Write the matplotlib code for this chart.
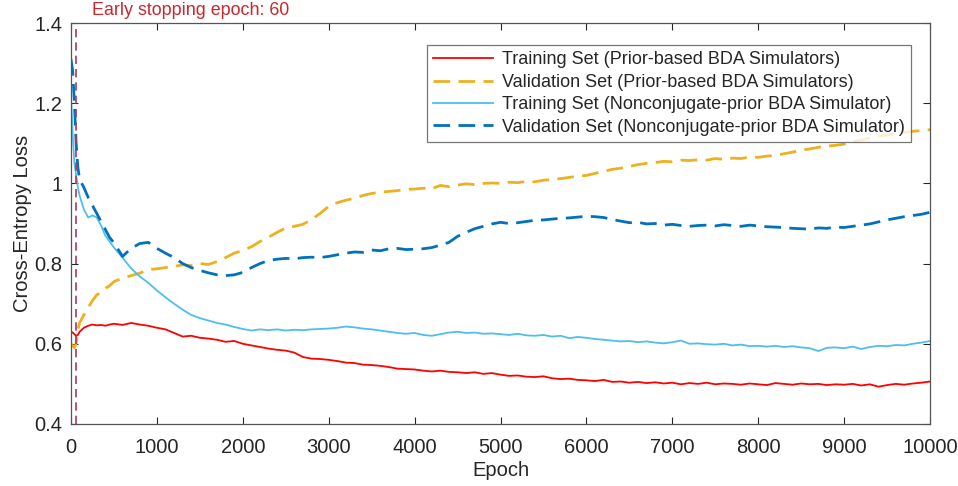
import matplotlib
matplotlib.use("Agg")
import matplotlib.pyplot as plt

plt.rcParams['font.family'] = ['Liberation Sans', 'DejaVu Sans']

epochs = [0, 20, 40, 60, 80, 100, 150, 200, 250, 300, 350, 400, 450, 500] + list(range(600, 10001, 100))

train_prior = [0.630, 0.628, 0.624, 0.620, 0.622, 0.630, 0.640, 0.645, 0.648, 0.646, 0.647, 0.645, 0.648, 0.650,
               0.647, 0.652, 0.648, 0.645, 0.640,
               0.636, 0.627, 0.618, 0.620, 0.615, 0.613, 0.610, 0.605, 0.607, 0.600,
               0.596, 0.592, 0.588, 0.585, 0.583, 0.578, 0.567, 0.563, 0.562, 0.560,
               0.557, 0.553, 0.552, 0.548, 0.547, 0.545, 0.542, 0.538, 0.537, 0.536,
               0.533, 0.531, 0.533, 0.530, 0.529, 0.527, 0.529, 0.525, 0.527, 0.523,
               0.520, 0.521, 0.518, 0.517, 0.519, 0.514, 0.512, 0.513, 0.510, 0.509,
               0.507, 0.510, 0.505, 0.506, 0.503, 0.505, 0.502, 0.504, 0.501, 0.503,
               0.499, 0.502, 0.500, 0.503, 0.499, 0.501, 0.500, 0.498, 0.501, 0.499,
               0.497, 0.502, 0.500, 0.498, 0.501, 0.499, 0.500, 0.497, 0.499, 0.498,
               0.500, 0.496, 0.499, 0.493, 0.497, 0.500, 0.498, 0.501, 0.503, 0.506]

val_prior = [0.600, 0.595, 0.590, 0.600, 0.635, 0.652, 0.672, 0.690, 0.708, 0.722, 0.728, 0.738, 0.745, 0.755,
             0.764, 0.770, 0.776, 0.785, 0.787,
             0.790, 0.793, 0.797, 0.795, 0.800, 0.798, 0.805, 0.815, 0.826, 0.833,
             0.842, 0.855, 0.866, 0.878, 0.889, 0.893, 0.898, 0.910, 0.925, 0.943,
             0.952, 0.958, 0.963, 0.970, 0.975, 0.978, 0.980, 0.982, 0.985, 0.986,
             0.988, 0.987, 0.995, 0.992, 0.996, 0.999, 0.997, 1.000, 1.001, 1.000,
             1.003, 1.002, 1.005, 1.004, 1.008, 1.010, 1.012, 1.015, 1.018, 1.020,
             1.025, 1.030, 1.035, 1.038, 1.042, 1.047, 1.050, 1.052, 1.055, 1.054,
             1.058, 1.057, 1.059, 1.058, 1.062, 1.060, 1.063, 1.062, 1.066, 1.065,
             1.068, 1.070, 1.074, 1.078, 1.083, 1.086, 1.090, 1.093, 1.095, 1.098,
             1.104, 1.108, 1.113, 1.118, 1.121, 1.124, 1.127, 1.130, 1.132, 1.134]

train_nonconj = [1.220, 1.120, 1.050, 1.020, 0.990, 0.970, 0.935, 0.915, 0.920, 0.915, 0.895, 0.870, 0.855, 0.840,
                 0.815, 0.788, 0.768, 0.752, 0.733,
                 0.716, 0.700, 0.685, 0.672, 0.664, 0.658, 0.652, 0.648, 0.642, 0.637,
                 0.633, 0.636, 0.634, 0.636, 0.633, 0.635, 0.634, 0.636, 0.637, 0.638,
                 0.640, 0.643, 0.641, 0.638, 0.636, 0.633, 0.630, 0.627, 0.625, 0.627,
                 0.622, 0.620, 0.624, 0.628, 0.630, 0.627, 0.628, 0.625, 0.626, 0.624,
                 0.622, 0.625, 0.621, 0.620, 0.622, 0.618, 0.620, 0.614, 0.617, 0.615,
                 0.612, 0.610, 0.608, 0.606, 0.607, 0.604, 0.606, 0.603, 0.601, 0.604,
                 0.608, 0.600, 0.601, 0.599, 0.598, 0.600, 0.596, 0.598, 0.594, 0.595,
                 0.593, 0.595, 0.592, 0.594, 0.591, 0.589, 0.582, 0.590, 0.591, 0.589,
                 0.593, 0.587, 0.592, 0.595, 0.594, 0.597, 0.596, 0.600, 0.603, 0.607]

val_nonconj = [1.310, 1.280, 1.200, 1.100, 1.040, 1.010, 0.990, 0.965, 0.945, 0.925, 0.905, 0.885, 0.865, 0.852,
               0.818, 0.838, 0.850, 0.853, 0.838,
               0.826, 0.815, 0.800, 0.790, 0.783, 0.777, 0.772, 0.770, 0.772, 0.778,
               0.790, 0.800, 0.808, 0.811, 0.813, 0.812, 0.815, 0.816, 0.815, 0.818,
               0.822, 0.826, 0.829, 0.828, 0.834, 0.832, 0.837, 0.838, 0.835, 0.836,
               0.837, 0.840, 0.846, 0.853, 0.868, 0.878, 0.887, 0.893, 0.899, 0.903,
               0.900, 0.902, 0.905, 0.908, 0.909, 0.911, 0.913, 0.914, 0.916, 0.918,
               0.917, 0.915, 0.910, 0.906, 0.902, 0.903, 0.899, 0.900, 0.896, 0.898,
               0.895, 0.893, 0.895, 0.896, 0.894, 0.897, 0.895, 0.893, 0.896, 0.894,
               0.892, 0.891, 0.890, 0.888, 0.887, 0.886, 0.889, 0.888, 0.891, 0.890,
               0.893, 0.896, 0.899, 0.904, 0.909, 0.913, 0.917, 0.920, 0.923, 0.928]

labels = ["Training Set (Prior-based BDA Simulators)",
          "Validation Set (Prior-based BDA Simulators)",
          "Training Set (Nonconjugate-prior BDA Simulator)",
          "Validation Set (Nonconjugate-prior BDA Simulator)"]
early_stop = 60

fig = plt.figure(figsize=(9.58, 4.86), dpi=100)
ax = fig.add_axes([0.0741, 0.1276, 0.8967, 0.825])

ax.plot(epochs, train_prior, color='#FF0000', lw=1.3, label=labels[0])
ax.plot(epochs, val_prior, color='#EDB120', lw=2.0, dashes=(6, 3), label=labels[1])
ax.plot(epochs, train_nonconj, color='#4DBEEE', lw=1.3, label=labels[2])
ax.plot(epochs, val_nonconj, color='#0072BD', lw=2.0, dashes=(6, 3), label=labels[3])
ax.axvline(early_stop, color='#A83A5A', lw=1.2, dashes=(5, 3))

ax.set_xlim(0, 10000)
ax.set_ylim(0.4, 1.4)
ax.set_xticks(range(0, 10001, 1000))
ax.set_yticks([0.4, 0.6, 0.8, 1.0, 1.2, 1.4])
ax.set_yticklabels(['0.4', '0.6', '0.8', '1', '1.2', '1.4'])
ax.tick_params(direction='in', top=True, right=True, labelsize=14.5, colors='#262626',
               length=5, width=0.8)
ax.tick_params(axis='x', pad=10)
ax.tick_params(axis='y', pad=6)
for s in ax.spines.values():
    s.set_color('#555555')
    s.set_linewidth(0.9)

ax.set_xlabel("Epoch", fontsize=14.5, color='#262626', labelpad=3)
ax.set_ylabel("Cross-Entropy Loss", fontsize=14.5, color='#262626', labelpad=2)
ax.text(0.024, 1.01, "Early stopping epoch: 60", transform=ax.transAxes, color='#C8282E',
        fontsize=12.9, ha='left', va='bottom')

leg = ax.legend(loc='upper right', bbox_to_anchor=(0.978, 0.945), borderaxespad=0,
                fontsize=13, frameon=True, fancybox=False, handlelength=3.3,
                labelspacing=0.3, borderpad=0.35, handletextpad=0.5)
leg.get_frame().set_edgecolor('#555555')
leg.get_frame().set_linewidth(0.9)
for t in leg.get_texts():
    t.set_color('#262626')

fig.savefig("out.png", dpi=100)
